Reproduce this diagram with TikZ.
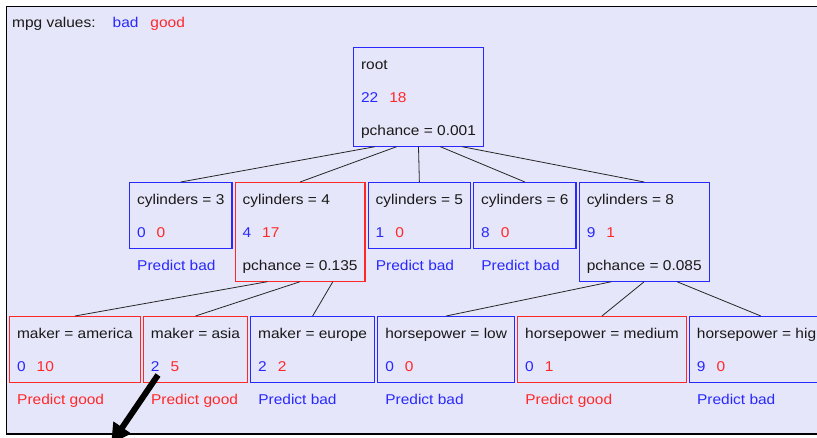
\documentclass[tikz,border=0pt]{standalone}
\usepackage{fontspec}
\setmainfont{Liberation Sans}[FakeStretch=1.09]
\usetikzlibrary{positioning,calc,arrows.meta}
\usepackage{xcolor}
\definecolor{panelbg}{RGB}{230,230,250}
\definecolor{badblue}{RGB}{40,40,255}
\definecolor{goodred}{RGB}{255,40,40}
\newcommand{\nbad}[1]{\textcolor{badblue}{#1}}
\newcommand{\ngood}[1]{\textcolor{goodred}{#1}}
\newcommand{\counts}[2]{\nbad{#1}\hspace{11pt}\ngood{#2}}
\newcommand{\topstrut}{\rule{0pt}{21.5pt}}
\newcommand{\botstrut}{\rule[-11pt]{0pt}{11pt}}

\begin{document}
\begin{tikzpicture}%
    [x=1pt, y=-1pt,
    font=\fontsize{14.2}{33}\selectfont,
    treebox/.style={draw, line width=1.2pt, align=left, inner xsep=7.5pt, inner ysep=0pt, text=black!90},
    badbox/.style={treebox, draw=badblue},
    goodbox/.style={treebox, draw=goodred},
    predbad/.style={inner sep=0pt, text=badblue},
    predgood/.style={inner sep=0pt, text=goodred},
    branch/.style={draw=black!85, line width=0.8pt}
    ]
    \useasboundingbox (0,0) rectangle (817,437);
    \clip (0,0) rectangle (817,437);
    \draw[fill=panelbg, line width=1.5pt] (6.5,6.5) rectangle (840,434);

    \node[anchor=base west, inner sep=0pt, text=black!90] (legend) at (12,27)
        {mpg values:\hspace{17pt}\nbad{bad}\hspace{12pt}\ngood{good}};

    % root
    \node[badbox, anchor=north] (root) at (418.5,47)
        {\topstrut root\\ \counts{22}{18}\\ pchance = 0.001\botstrut};

    % cylinders
    \node[badbox, anchor=north west] (cyl3) at (129,182)
        {\topstrut cylinders = 3\\ \counts{0}{0}\botstrut};
    \node[goodbox, below right=0pt and 2pt of cyl3.north east] (cyl4)
        {\topstrut cylinders = 4\\ \counts{4}{17}\\ pchance = 0.135\botstrut};
    \node[badbox, below right=0pt and 2pt of cyl4.north east] (cyl5)
        {\topstrut cylinders = 5\\ \counts{1}{0}\botstrut};
    \node[badbox, below right=0pt and 2pt of cyl5.north east] (cyl6)
        {\topstrut cylinders = 6\\ \counts{8}{0}\botstrut};
    \node[badbox, below right=0pt and 2pt of cyl6.north east] (cyl8)
        {\topstrut cylinders = 8\\ \counts{9}{1}\\ pchance = 0.085\botstrut};

    % maker
    \node[goodbox, anchor=north west] (america) at (9,316)
        {\topstrut maker = america\\ \counts{0}{10}\botstrut};
    \node[goodbox, below right=0pt and 2pt of america.north east] (asia)
        {\topstrut maker = asia\\ \counts{2}{5}\botstrut};
    \node[badbox, below right=0pt and 2pt of asia.north east] (europe)
        {\topstrut maker = europe\\ \counts{2}{2}\botstrut};

    % horsepower
    \node[badbox, below right=0pt and 2pt of europe.north east] (hplow)
        {\topstrut horsepower = low\\ \counts{0}{0}\botstrut};
    \node[goodbox, below right=0pt and 2pt of hplow.north east] (hpmed)
        {\topstrut horsepower = medium\\ \counts{0}{1}\botstrut};
    \node[badbox, below right=0pt and 2pt of hpmed.north east] (hphigh)
        {\topstrut horsepower = high\\ \counts{9}{0}\botstrut};

    % predictions under the leaves
    \node[predbad, below right=22pt and 8pt of cyl3.south west, anchor=base west] (pcyl3) {Predict bad};
    \node[predbad, below right=22pt and 8pt of cyl5.south west, anchor=base west] (pcyl5) {Predict bad};
    \node[predbad, below right=22pt and 8pt of cyl6.south west, anchor=base west] (pcyl6) {Predict bad};
    \node[predgood, below right=22pt and 8pt of america.south west, anchor=base west] (pamerica) {Predict good};
    \node[predgood, below right=22pt and 8pt of asia.south west, anchor=base west] (pasia) {Predict good};
    \node[predbad, below right=22pt and 8pt of europe.south west, anchor=base west] (peurope) {Predict bad};
    \node[predbad, below right=22pt and 8pt of hplow.south west, anchor=base west] (phplow) {Predict bad};
    \node[predgood, below right=22pt and 8pt of hpmed.south west, anchor=base west] (phpmed) {Predict good};
    \node[predbad, below right=22pt and 8pt of hphigh.south west, anchor=base west] (phphigh) {Predict bad};

    \path[branch]
    % FROM                                          TO
    ($(root.south west)!1/6!(root.south east)$)     edge (cyl3.north)
    ($(root.south west)!2/6!(root.south east)$)     edge (cyl4.north)
    ($(root.south west)!3/6!(root.south east)$)     edge (cyl5.north)
    ($(root.south west)!4/6!(root.south east)$)     edge (cyl6.north)
    ($(root.south west)!5/6!(root.south east)$)     edge (cyl8.north)
    ($(cyl4.south west)!1/4!(cyl4.south east)$)     edge (america.north)
    ($(cyl4.south west)!2/4!(cyl4.south east)$)     edge (asia.north)
    ($(cyl4.south west)!3/4!(cyl4.south east)$)     edge (europe.north)
    ($(cyl8.south west)!1/4!(cyl8.south east)$)     edge (hplow.north)
    ($(cyl8.south west)!2/4!(cyl8.south east)$)     edge (hpmed.north)
    ($(cyl8.south west)!3/4!(cyl8.south east)$)     edge (hphigh.north)
    ;

    % pointer
    \coordinate (tail) at (158,375);
    \coordinate (tip)  at (111,444);
    \draw[line width=6pt, -{Triangle[length=20pt,width=20pt]}] (tail) -- (tip);
\end{tikzpicture}
\end{document}
